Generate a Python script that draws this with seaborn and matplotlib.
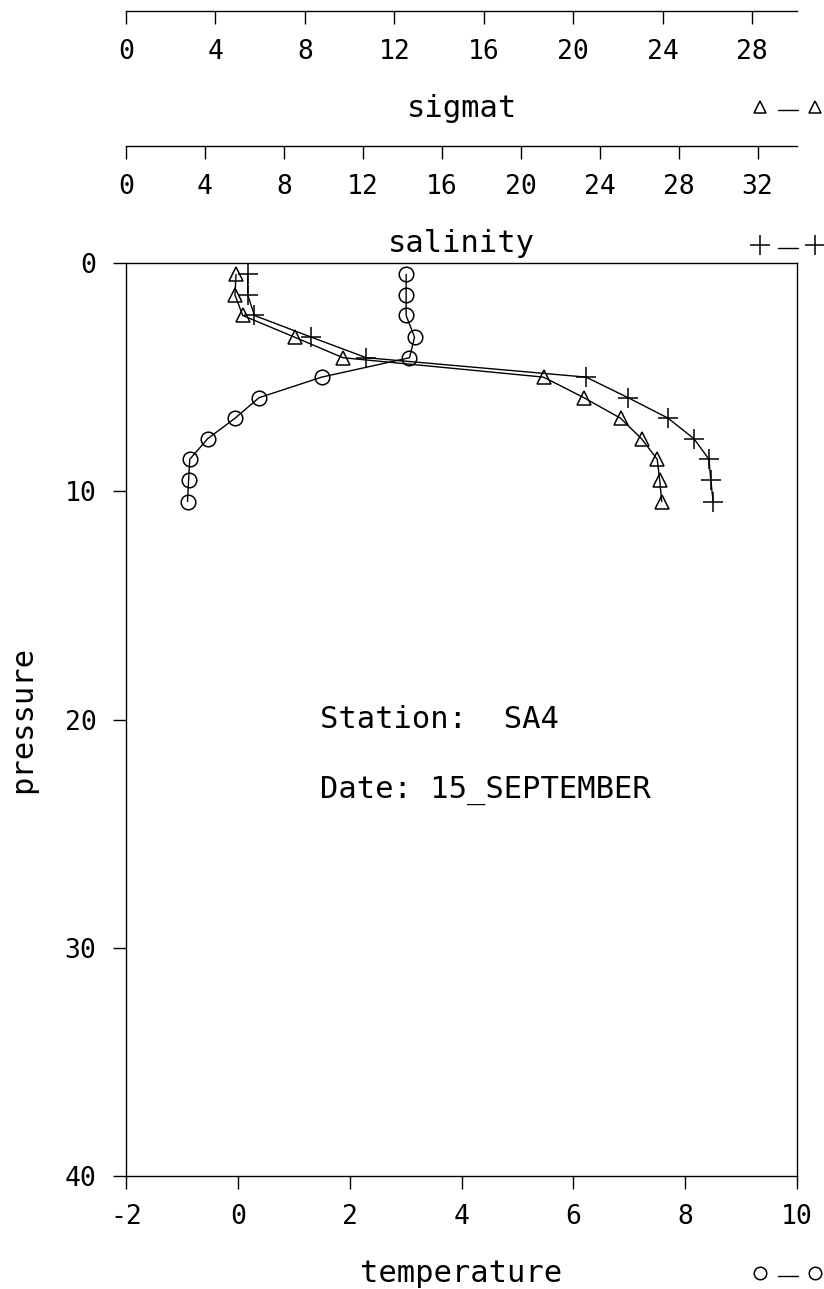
import matplotlib
matplotlib.use("Agg")
import matplotlib.pyplot as plt
from matplotlib.lines import Line2D
import seaborn as sns
import pandas as pd

# ---- data ----
pressure = [0.5, 1.4, 2.3, 3.25, 4.15, 5.0, 5.9, 6.8, 7.7, 8.6, 9.5, 10.45]
temperature = [3.01, 3.01, 3.01, 3.16, 3.07, 1.50, 0.38, -0.05, -0.54, -0.86, -0.88, -0.90]
sigmat = [4.92, 4.87, 5.22, 7.54, 9.70, 18.67, 20.47, 22.11, 23.05, 23.75, 23.86, 23.95]
salinity = [6.17, 6.17, 6.51, 9.39, 12.18, 23.31, 25.44, 27.47, 28.78, 29.54, 29.63, 29.75]

temp_ticks = [-2, 0, 2, 4, 6, 8, 10]
sigmat_ticks = [0, 4, 8, 12, 16, 20, 24, 28]
salinity_ticks = [0, 4, 8, 12, 16, 20, 24, 28, 32]
pressure_ticks = [0, 10, 20, 30, 40]

station_text = "Station:  SA4"
date_text = "Date: 15_SEPTEMBER"

df = pd.DataFrame({"pressure": pressure, "temperature": temperature,
                   "sigmat": sigmat, "salinity": salinity})

sns.set_style("white")
plt.rcParams["font.family"] = ["DejaVu Sans Mono", "DejaVu Sans"]
plt.rcParams["axes.linewidth"] = 1.0
plt.rcParams["text.color"] = "black"
plt.rcParams["axes.labelcolor"] = "black"
plt.rcParams["xtick.color"] = "black"
plt.rcParams["ytick.color"] = "black"

TICK = 19
LAB = 22
TL = 13 * 0.72

fig = plt.figure(figsize=(8.24, 12.89), dpi=100)
W, H = 824, 1289
left, right, top, bottom = 126, 797, 263, 1176
L = left / W
Wd = (right - left) / W
B = 1 - bottom / H
Ht = (bottom - top) / H

ax = fig.add_axes([L, B, Wd, Ht])
ax.set_facecolor("white")
for s in ax.spines.values():
    s.set_color("black")
    s.set_linewidth(1.0)

common = dict(sort=False, estimator=None, color="black", linewidth=1.0,
              markerfacecolor="none", markeredgecolor="black",
              markeredgewidth=1.1)

sns.lineplot(data=df, x="temperature", y="pressure", ax=ax,
             marker="o", markersize=10.5, **common)

ax_s = ax.twiny()
sns.lineplot(data=df, x="sigmat", y="pressure", ax=ax_s,
             marker="^", markersize=10, **common)
ax_c = ax.twiny()
sns.lineplot(data=df, x="salinity", y="pressure", ax=ax_c,
             marker="+", markersize=15, **common)

for a in (ax_s, ax_c):
    a.set_axis_off()
ax_s.set_xlim(0, 30)
ax_c.set_xlim(0, 34)

ax.set_xlim(-2, 10)
ax.set_ylim(40, 0)
ax.set_xticks(temp_ticks)
ax.set_xticklabels([str(t) for t in temp_ticks])
ax.set_yticks(pressure_ticks)
ax.set_yticklabels([str(t) for t in pressure_ticks])
ax.tick_params(axis="x", direction="out", length=TL, width=1,
               labelsize=TICK, pad=11, bottom=True, top=False)
ax.tick_params(axis="y", direction="out", length=TL, width=1,
               labelsize=TICK, pad=12, left=True, right=False)
ax.set_xlabel("temperature", fontsize=LAB, labelpad=21)
ax.set_ylabel("pressure", fontsize=LAB, labelpad=20)

ax.text(1.47, 20.0, station_text, fontsize=LAB, ha="left", va="center")
ax.text(1.47, 23.1, date_text, fontsize=LAB, ha="left", va="center")

# ---- top scale axes ----
def scale_axis(ypix, lim, ticks, label):
    a = fig.add_axes([L, 1 - ypix / H, Wd, 0.0005])
    a.set_facecolor("none")
    for k in ("top", "left", "right"):
        a.spines[k].set_visible(False)
    a.spines["bottom"].set_color("black")
    a.spines["bottom"].set_linewidth(1.0)
    a.set_xlim(*lim)
    a.set_xticks(ticks)
    a.set_xticklabels([str(t) for t in ticks])
    a.set_yticks([])
    a.tick_params(axis="x", direction="out", length=TL, width=1,
                  labelsize=TICK, pad=11, bottom=True, top=False)
    a.set_xlabel(label, fontsize=LAB, labelpad=21)
    return a

scale_axis(11, (0, 30), sigmat_ticks, "sigmat")
scale_axis(146, (0, 34), salinity_ticks, "salinity")

# ---- key symbols at right ----
def key(ypix, marker, ms):
    y = 1 - ypix / H
    fig.add_artist(Line2D([760 / W], [y], marker=marker, ms=ms, mfc="none",
                          mec="black", mew=1.1, ls="none",
                          transform=fig.transFigure))
    fig.add_artist(Line2D([778 / W, 798 / W], [y - 3 / H, y - 3 / H],
                          color="black", lw=1.0, transform=fig.transFigure))
    fig.add_artist(Line2D([815 / W], [y], marker=marker, ms=ms, mfc="none",
                          mec="black", mew=1.1, ls="none",
                          transform=fig.transFigure))

key(107, "^", 8)
key(245, "+", 14)
key(1273, "o", 9)

fig.savefig("out.png", dpi=100)
